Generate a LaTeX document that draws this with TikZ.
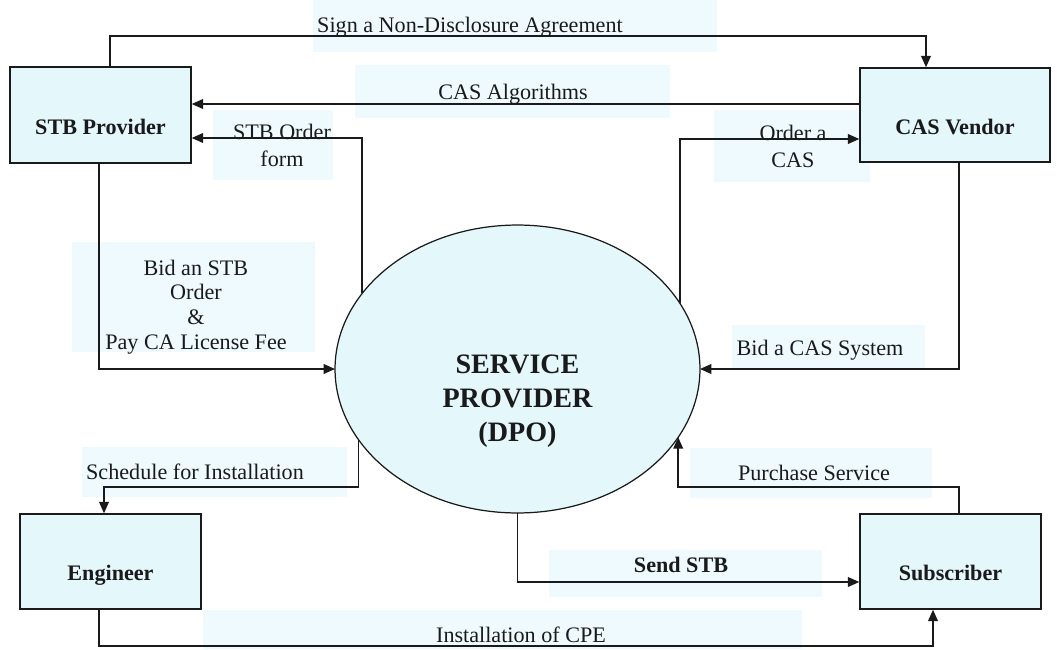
\documentclass[tikz,border=0pt]{standalone}
\usepackage{fontspec}
\setmainfont{Liberation Serif}
\usetikzlibrary{arrows.meta,shapes.geometric}
\definecolor{boxfill}{HTML}{E4F7FA}
\definecolor{tagfill}{HTML}{EEFAFD}
\definecolor{ink}{HTML}{1A1A1A}

\begin{document}
\begin{tikzpicture}[x=0.02cm,y=-0.02cm,>={Triangle[length=6.5pt,width=5.5pt]},line width=1pt,draw=ink,
        entity/.style={shape=rectangle,draw=ink,line width=0.8pt,fill=boxfill,text=ink,text height=22pt,text depth=0pt,font=\fontsize{12.6}{15}\selectfont\bfseries},
        tag/.style={anchor=base,text=ink,inner sep=0pt,font=\fontsize{12.6}{14}\selectfont},
        tagblock/.style={text=ink,inner sep=0pt,align=center,font=\fontsize{12.6}{14}\selectfont}]
                \useasboundingbox (0,0) rectangle (1057,649);
                \foreach \xa/\ya/\xb/\yb in {313/0/717/52,355/65/670/118,213/110/333/180,714/110/870/182,72/242/315/352,732/325/925/370,82/447/347/497,690/448/932/498,549/550/822/597,203/610/802/649}
                    \fill[tagfill] (\xa,\ya) rectangle (\xb,\yb);

                \node[entity,minimum width=3.62cm,minimum height=1.92cm](stb)at(100.5, 115){STB Provider};
                \node[entity,minimum width=3.8cm,minimum height=1.88cm](cas)at(955, 115){CAS Vendor};
                \node[entity,minimum width=3.62cm,minimum height=1.9cm](eng)at(110.5, 561.5){Engineer};
                \node[entity,minimum width=3.62cm,minimum height=1.9cm](sub)at(950.5, 561.5){Subscriber};
                \node[shape=ellipse,draw=ink,line width=0.7pt,fill=boxfill,inner sep=0pt,outer sep=0pt,minimum width=7.3cm,minimum height=5.76cm](sp)at(517.5, 369){};
                \node[text=ink,align=center,font=\fontsize{16}{19.3}\selectfont\bfseries](spname)at(517.5, 401){SERVICE\\PROVIDER\\(DPO)};

                \node[tag](nda)at(470, 32){Sign a Non-Disclosure Agreement};
                \node[tag](alg)at(513, 99){CAS Algorithms};
                \node[tagblock,font=\fontsize{12.6}{15.3}\selectfont](stborder)at(282, 145.5){STB Order\\form};
                \node[tagblock,font=\fontsize{12.6}{15.3}\selectfont](casorder)at(793, 146){Order a\\CAS};
                \node[tagblock](bidstb)at(196, 307){Bid an STB\\Order\\\&\\Pay CA License Fee};
                \node[tag](bidcas)at(820, 355){Bid a CAS System};
                \node[tag](sched)at(195, 479){Schedule for Installation};
                \node[tag](purch)at(814, 480){Purchase Service};
                \node[tag,font=\fontsize{12.6}{14}\selectfont\bfseries](send)at(681, 572){Send STB};
                \node[tag](cpe)at(521, 642){Installation of CPE};

                \draw[->] (stb.north -| 110,0) -- ++(0,-30) -| (cas.north -| 926,0);
                \draw[->] (cas.west |- 0,104) -- (stb.east |- 0,104);
                \draw[->] (sp.154) |- (stb.east |- 0,138);
                \draw[->] (sp.22) |- (cas.west |- 0,139);
                \draw[->] (stb.south -| 99,0) |- (sp.west);
                \draw[->] (cas.south -| 959,0) |- (sp.east);
                \draw[->] (sp.204) -- (sp.204 |- 0,487) -| (eng.north -| 104,0);
                \draw[->] (sub.north -| 959,0) |- (sp.337 |- 0,487) -- (sp.337);
                \draw[->] (sp.south) |- (sub.west |- 0,582);
                \draw[->] (eng.south -| 99,0) -- ++(0,36) -| (sub.south -| 933,0);
            \end{tikzpicture}
\end{document}
